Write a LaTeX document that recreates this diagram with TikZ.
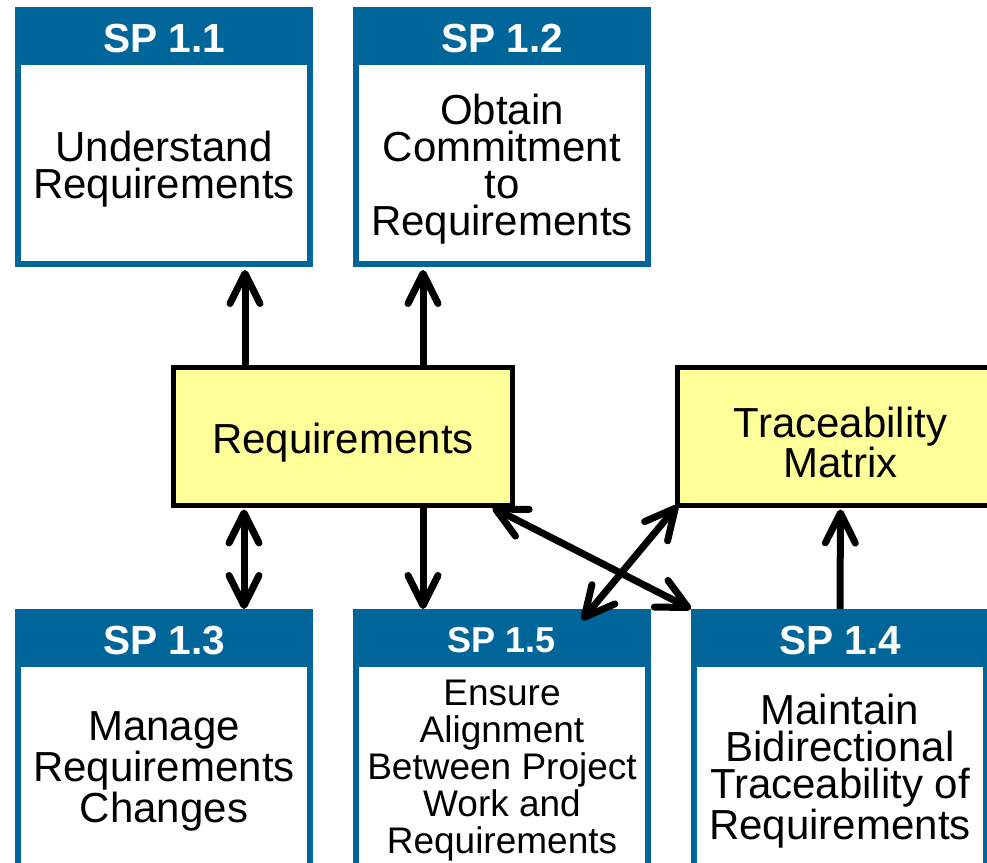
\documentclass[tikz,border=0pt]{standalone}
\usepackage{fontspec}
\setmainfont{Liberation Sans}
\usetikzlibrary{positioning}
\usetikzlibrary{arrows.meta}

\definecolor{spblue}{RGB}{0,102,153}
\definecolor{wpyellow}{RGB}{255,255,153}
\newcommand{\topstrut}{\rule{0pt}{1em}}

\tikzset{
  spbarb/.tip={Straight Barb[length=15pt, width=15pt, round]},
  spbody/.style={draw=spblue, line width=3pt, fill=white, minimum width=146pt, minimum height=101pt,
    inner sep=0pt, outer sep=0pt, align=center, font=\fontsize{21pt}{18.5pt}\selectfont},
  sphead/.style={fill=spblue, text=white, minimum width=149pt, minimum height=27.5pt, inner sep=0pt,
    outer sep=0pt, text height=18pt, text depth=0pt, font=\bfseries\fontsize{20.3pt}{24pt}\selectfont},
  workproduct/.style={draw=black, line width=2.5pt, fill=wpyellow, minimum height=69pt, inner sep=0pt,
    outer sep=0pt, align=center, font=\fontsize{21pt}{20pt}\selectfont},
  flow/.style={line width=3.5pt, -spbarb},
  dflow/.style={line width=3.5pt, spbarb-spbarb},
}

\begin{document}
\begin{tikzpicture}[x=0.5pt, y=-0.5pt]
  \useasboundingbox (0,0) rectangle (987,863);
  \clip (0,0) rectangle (987,863);

  % specific practices
  \node[spbody] (sp11) at (164,163) {\topstrut Understand\\Requirements};
  \node[sphead, above=0pt of sp11] (h11) {SP 1.1};
  \node[spbody] (sp12) at (502,163) {\topstrut Obtain\\Commitment\\to\\Requirements};
  \node[sphead, above=0pt of sp12] (h12) {SP 1.2};
  \node[spbody] (sp13) at (164,765) {\topstrut Manage\\Requirements\\Changes};
  \node[sphead, above=0pt of sp13] (h13) {SP 1.3};
  \node[spbody, font=\fontsize{18.5pt}{18.5pt}\selectfont] (sp15) at (502,765)
    {\topstrut Ensure\\Alignment\\Between Project\\Work and\\Requirements};
  \node[sphead, above=0pt of sp15, text height=16.4pt, font=\bfseries\fontsize{18pt}{22pt}\selectfont] (h15) {SP 1.5};
  \node[spbody] (sp14) at (840,765) {\topstrut Maintain\\Bidirectional\\Traceability of\\Requirements};
  \node[sphead, above=0pt of sp14] (h14) {SP 1.4};

  % work products
  \node[workproduct, minimum width=169.5pt] (req) at (343,436.5) {\topstrut Requirements};
  \node[workproduct, minimum width=163pt] (tm) at (840.5,436.5) {\topstrut Traceability\\Matrix};

  \coordinate (c11) at ([xshift=40.5pt]sp11.south);
  \coordinate (c12) at ([xshift=-39.5pt]sp12.south);
  \coordinate (c13) at ([xshift=40pt]h13.north);
  \coordinate (c15) at ([xshift=-39.5pt]h15.north);

  \draw[flow, shorten >=3pt] (c11 |- req.north) -- (c11);
  \draw[flow, shorten >=3pt] (c12 |- req.north) -- (c12);
  \draw[dflow, shorten <=2pt] (c13 |- req.south) -- (c13);
  \draw[flow] (c15 |- req.south) -- (c15);
  \draw[flow, shorten >=2pt] (h14.north) -- (tm.south);
  \draw[dflow] ([xshift=-10pt, yshift=-1pt]req.south east) -- (h14.north west);
  \draw[dflow] (tm.south west) -- ([xshift=-34.5pt, yshift=-5.5pt]h15.north east);
\end{tikzpicture}
\end{document}
